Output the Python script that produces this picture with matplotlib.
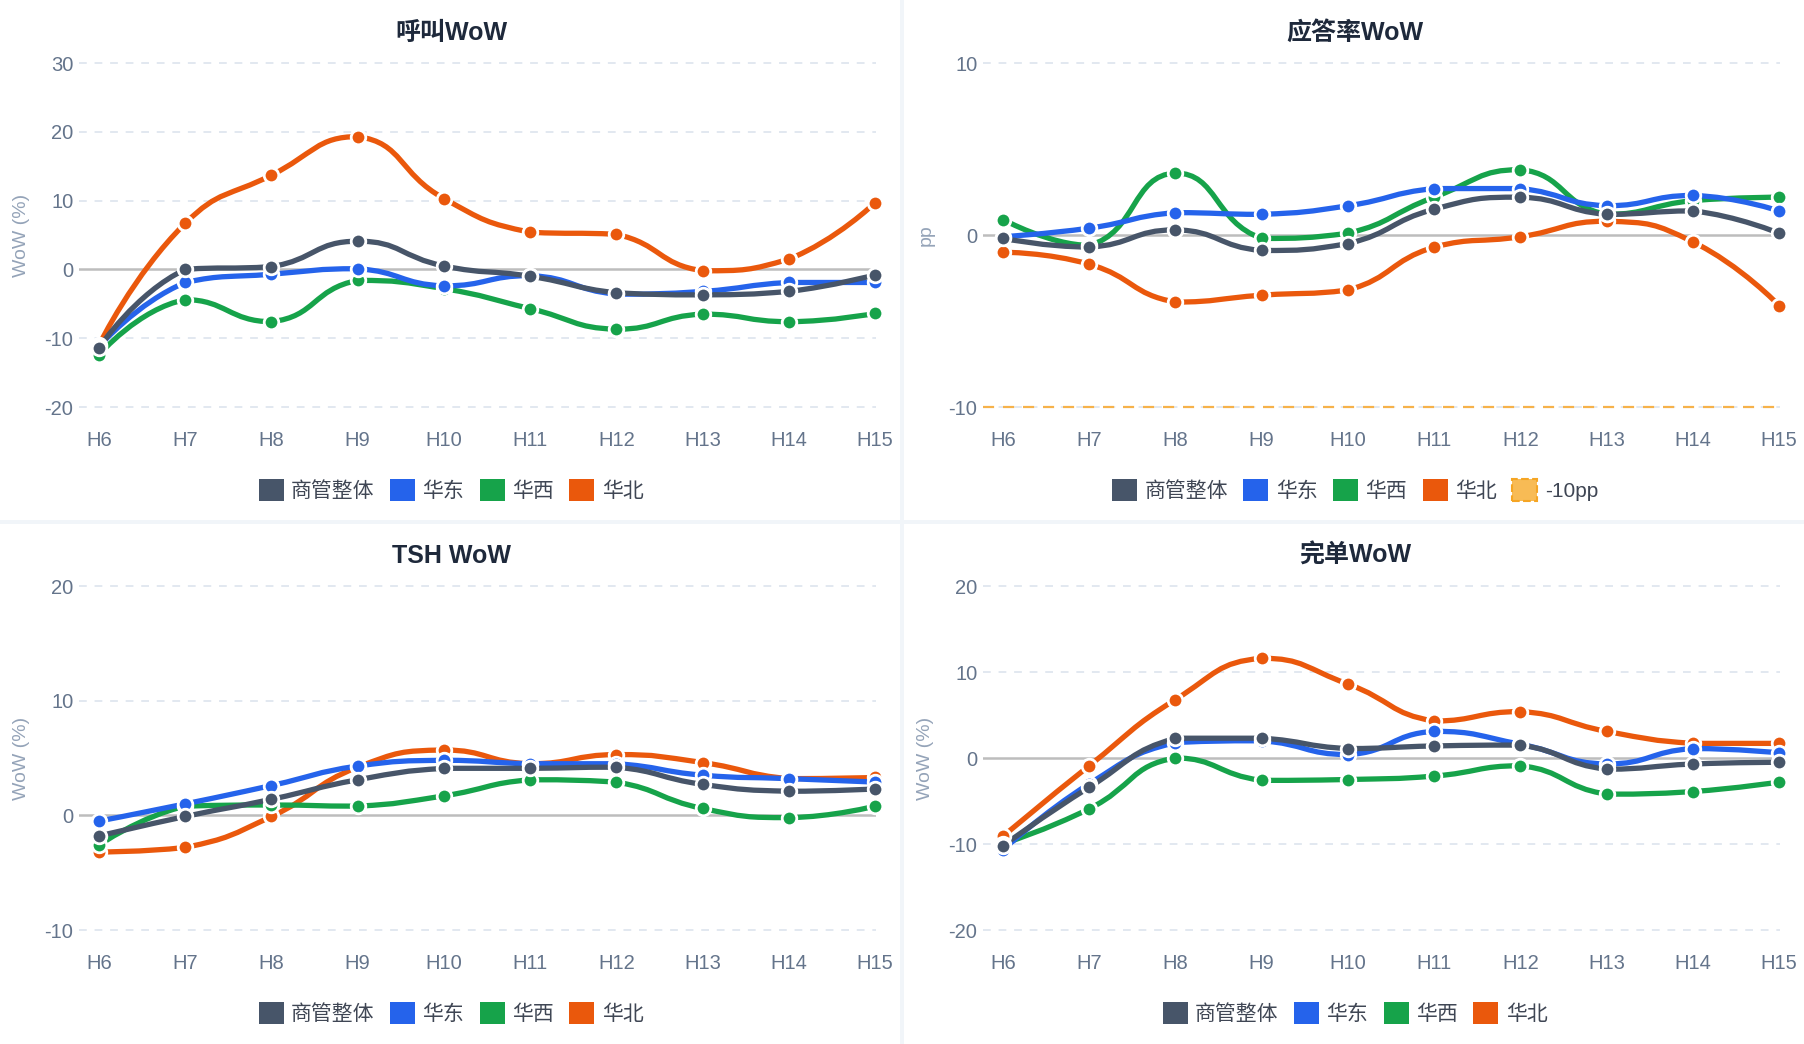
import numpy as np
import matplotlib
matplotlib.use("Agg")
import matplotlib.pyplot as plt
from matplotlib.path import Path
from matplotlib.patches import PathPatch, Patch, Rectangle

plt.rcParams["font.family"] = ["Liberation Sans", "Noto Sans CJK SC", "DejaVu Sans"]

hours = ["H6", "H7", "H8", "H9", "H10", "H11", "H12", "H13", "H14", "H15"]
series_names = ["商管整体", "华东", "华西", "华北"]
colors = ["#475569", "#2563eb", "#16a34a", "#ea580c"]

# 呼叫WoW (%)
call_overall = [-11.4, 0.0, 0.4, 4.1, 0.5, -1.0, -3.4, -3.7, -3.2, -0.8]
call_east = [-11.2, -1.9, -0.7, 0.1, -2.4, -0.9, -3.6, -3.2, -1.9, -1.9]
call_west = [-12.4, -4.4, -7.6, -1.6, -2.8, -5.7, -8.7, -6.5, -7.6, -6.4]
call_north = [-11.0, 6.7, 13.7, 19.3, 10.3, 5.4, 5.1, -0.2, 1.5, 9.7]

# 应答率WoW (pp)
ans_overall = [-0.2, -0.7, 0.3, -0.9, -0.5, 1.5, 2.2, 1.2, 1.4, 0.1]
ans_east = [-0.1, 0.4, 1.3, 1.2, 1.7, 2.7, 2.7, 1.7, 2.3, 1.4]
ans_west = [0.9, -0.6, 3.6, -0.2, 0.1, 2.2, 3.8, 1.2, 2.0, 2.2]
ans_north = [-1.0, -1.7, -3.9, -3.5, -3.2, -0.7, -0.1, 0.8, -0.4, -4.1]
ans_threshold = -10

# TSH WoW (%)
tsh_overall = [-1.8, -0.1, 1.4, 3.1, 4.1, 4.1, 4.2, 2.7, 2.1, 2.3]
tsh_east = [-0.5, 1.0, 2.6, 4.3, 4.8, 4.5, 4.5, 3.5, 3.2, 2.9]
tsh_west = [-2.6, 0.8, 0.9, 0.8, 1.7, 3.1, 2.9, 0.6, -0.2, 0.8]
tsh_north = [-3.2, -2.8, -0.1, 4.2, 5.7, 4.5, 5.3, 4.6, 3.2, 3.3]

# 完单WoW (%)
done_overall = [-10.2, -3.4, 2.3, 2.3, 1.1, 1.4, 1.5, -1.3, -0.7, -0.5]
done_east = [-10.7, -3.0, 1.8, 2.0, 0.4, 3.1, 1.6, -0.7, 1.1, 0.6]
done_west = [-10.0, -5.9, 0.0, -2.6, -2.5, -2.1, -0.9, -4.2, -3.9, -2.8]
done_north = [-9.1, -0.9, 6.8, 11.6, 8.6, 4.3, 5.4, 3.1, 1.7, 1.7]

W, H = 1804, 1044
fig = plt.figure(figsize=(W / 100, H / 100), dpi=100)
fig.patch.set_facecolor("white")

# panel separators
fig.add_artist(Rectangle((900 / W, 0), 4 / W, 1, transform=fig.transFigure,
                         facecolor="#f1f5f9", edgecolor="none"))
fig.add_artist(Rectangle((0, 1 - 524 / H), 1, 4 / H, transform=fig.transFigure,
                         facecolor="#f1f5f9", edgecolor="none"))


def smooth_line(ax, xs, ys, color, s=0.5):
    # echarts-like smooth bezier, computed in pixel space
    pts = ax.transData.transform(np.column_stack([xs, ys]))
    n = len(pts)
    verts = [pts[0]]
    codes = [Path.MOVETO]
    cp0 = pts[0]
    for i in range(1, n):
        p = pts[i]
        prev = pts[i - 1]
        if i + 1 < n:
            nxt = pts[i + 1]
            v = nxt - prev
            l0 = np.hypot(*(p - prev))
            l1 = np.hypot(*(nxt - p))
            r = l1 / (l0 + l1) if l0 + l1 > 0 else 0.5
            ncp0 = p - v * s * (1 - r)
            cp1 = p + v * s * r
            ncp0 = np.clip(ncp0, np.minimum(prev, p), np.maximum(prev, p))
            cp1 = np.clip(cp1, np.minimum(nxt, p), np.maximum(nxt, p))
        else:
            ncp0 = p
            cp1 = p
        verts += [cp0, ncp0, p]
        codes += [Path.CURVE4] * 3
        cp0 = cp1
    data_verts = ax.transData.inverted().transform(np.array(verts))
    patch = PathPatch(Path(data_verts, codes), facecolor="none", edgecolor=color,
                      lw=3.8, zorder=3, clip_on=False, capstyle="round", joinstyle="round")
    ax.add_patch(patch)


def draw_panel(col, row, title, ylabel, data, yticks, threshold=None):
    x0 = col * 904
    y0 = row * 523
    ax = fig.add_axes([(79 + x0) / W, 1 - (407 + y0) / H, 797 / W, 344 / H])
    ax.set_xlim(-0.232, 9.01)
    ax.set_ylim(yticks[0], yticks[-1])
    for sp in ax.spines.values():
        sp.set_visible(False)
    ax.set_xticks(range(len(hours)))
    ax.set_xticklabels(hours)
    ax.set_yticks(yticks)
    ax.set_yticklabels([str(t) for t in yticks])
    ax.tick_params(axis="x", length=0, pad=17, labelsize=14.5, labelcolor="#64748b")
    ax.tick_params(axis="y", length=0, pad=4, labelsize=14.5, labelcolor="#64748b")
    for t in yticks:
        if t == 0:
            ax.axhline(0, color="#bdbdbd", lw=1.8, zorder=1)
        else:
            ax.axhline(t, color="#e2e8f0", lw=1.4, ls=(0, (4, 4)), zorder=1, clip_on=False)
    if threshold is not None:
        ax.axhline(threshold, color="#f6b24a", lw=1.6, ls=(0, (5, 4)), zorder=2, clip_on=False)

    xs = np.arange(len(hours))
    # later series drawn underneath, overall on top
    for vals, c in list(zip(data, colors))[::-1]:
        smooth_line(ax, xs, vals, c)
    for vals, c in list(zip(data, colors))[::-1]:
        ax.plot(xs, vals, ls="none", marker="o", ms=10.5, mfc=c, mec="white",
                mew=2.0, zorder=4, clip_on=False)

    fig.text((451 + x0) / W, 1 - (33 + y0) / H, title, ha="center", va="center",
             fontsize=18, fontweight="bold", color="#1e293b")
    fig.text((22 + x0) / W, 1 - (235 + y0) / H, ylabel, ha="center", va="center",
             rotation=90, fontsize=14, color="#94a3b8")

    handles = [Patch(facecolor=c, edgecolor="none", label=n) for n, c in zip(series_names, colors)]
    if threshold is not None:
        handles.append(Patch(facecolor="#f8bb55", edgecolor="#f5a524", ls="--", lw=1.5,
                             label="-10pp"))
    fig.legend(handles=handles, loc="center", ncol=len(handles),
               bbox_to_anchor=((451 + x0) / W, 1 - (490 + y0) / H),
               frameon=False, fontsize=15, labelcolor="#3f4654",
               handlelength=1.2, handleheight=1.2, handletextpad=0.35,
               columnspacing=0.75, borderpad=0)
    return ax


draw_panel(0, 0, "呼叫WoW", "WoW (%)",
           [call_overall, call_east, call_west, call_north], [-20, -10, 0, 10, 20, 30])
draw_panel(1, 0, "应答率WoW", "pp",
           [ans_overall, ans_east, ans_west, ans_north], [-10, 0, 10], threshold=ans_threshold)
draw_panel(0, 1, "TSH WoW", "WoW (%)",
           [tsh_overall, tsh_east, tsh_west, tsh_north], [-10, 0, 10, 20])
draw_panel(1, 1, "完单WoW", "WoW (%)",
           [done_overall, done_east, done_west, done_north], [-20, -10, 0, 10, 20])

fig.savefig("out.png", dpi=100)
